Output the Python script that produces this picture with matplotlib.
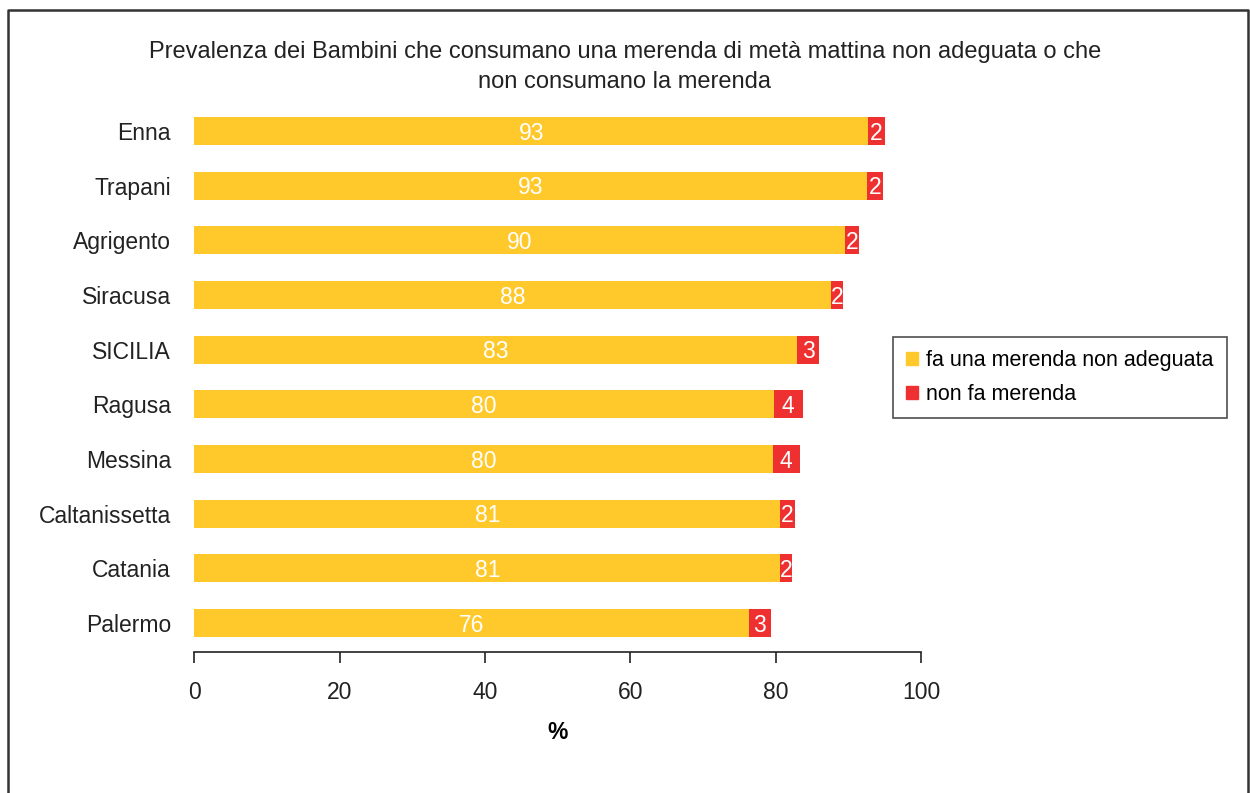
import matplotlib.pyplot as plt
import matplotlib.patches as patches

plt.rcParams['font.family'] = ['Liberation Sans', 'DejaVu Sans']

# province data, top to bottom
province = ['Enna', 'Trapani', 'Agrigento', 'Siracusa', 'SICILIA',
            'Ragusa', 'Messina', 'Caltanissetta', 'Catania', 'Palermo']
non_adeguata = [92.7, 92.6, 89.6, 87.6, 83.0, 79.7, 79.6, 80.6, 80.6, 76.3]
no_merenda = [2.4, 2.2, 1.9, 1.6, 3.0, 4.0, 3.7, 2.0, 1.7, 3.0]
xticks = [0, 20, 40, 60, 80, 100]

yellow = '#FFC82B'
red = '#EE3130'

fig = plt.figure(figsize=(12.5, 7.93), dpi=100)
ax = fig.add_axes([0.1556, 0.1778, 0.5812, 0.6936])

ypos = list(range(len(province)))
bars1 = ax.barh(ypos, non_adeguata, height=0.51, color=yellow)
lefts = non_adeguata
bars2 = ax.barh(ypos, no_merenda, left=lefts, height=0.51, color=red)

# white value labels, nudged slightly down inside each segment
for bars in (bars1, bars2):
    for b in bars:
        ax.annotate('%.0f' % b.get_width(),
                    (b.get_x() + b.get_width() / 2, b.get_y() + b.get_height() / 2),
                    xytext=(0, -1.5), textcoords='offset points',
                    ha='center', va='center', color='white', fontsize=16.5)

ax.set_ylim(9.53, -0.53)
ax.set_xlim(0, 100)
ax.set_yticks(ypos)
ax.set_yticklabels(province, fontsize=16.5, color='#222222')
ax.tick_params(axis='y', length=0, pad=17)
ax.set_xticks(xticks)
ax.set_xticklabels([str(t) for t in xticks], fontsize=16.5, color='#222222')
ax.tick_params(axis='x', direction='out', length=8, width=1.2,
               color='#222222', pad=13)
for side in ('top', 'right', 'left'):
    ax.spines[side].set_visible(False)
ax.spines['bottom'].set_linewidth(1.2)
ax.spines['bottom'].set_color('#222222')
ax.set_xlabel('%', fontsize=16.5, fontweight='bold', labelpad=12)

fig.text(0.5, 0.935, 'Prevalenza dei Bambini che consumano una merenda di metà mattina non adeguata o che',
         ha='center', va='center', fontsize=17, color='#222222')
fig.text(0.5, 0.897, 'non consumano la merenda',
         ha='center', va='center', fontsize=17, color='#222222')

handles = [patches.Patch(color=yellow), patches.Patch(color=red)]
leg = fig.legend(handles, ['fa una merenda non adeguata', 'non fa merenda'],
                 loc='upper left', bbox_to_anchor=(893 / 1250, 1 - 337 / 793),
                 fontsize=15.5, frameon=True, fancybox=False,
                 handlelength=0.55, handleheight=0.55, handletextpad=0.4,
                 borderpad=0.6, labelspacing=0.6, borderaxespad=0)
leg.get_frame().set_edgecolor('#222222')
leg.get_frame().set_linewidth(1.2)

# outer frame (open at the bottom)
fig.add_artist(plt.Line2D([8 / 1250, 8 / 1250, 1248 / 1250, 1248 / 1250],
                          [0, 1 - 10 / 793, 1 - 10 / 793, 0],
                          transform=fig.transFigure, color='#333333', lw=1.8))

fig.savefig('out.png', dpi=100)
